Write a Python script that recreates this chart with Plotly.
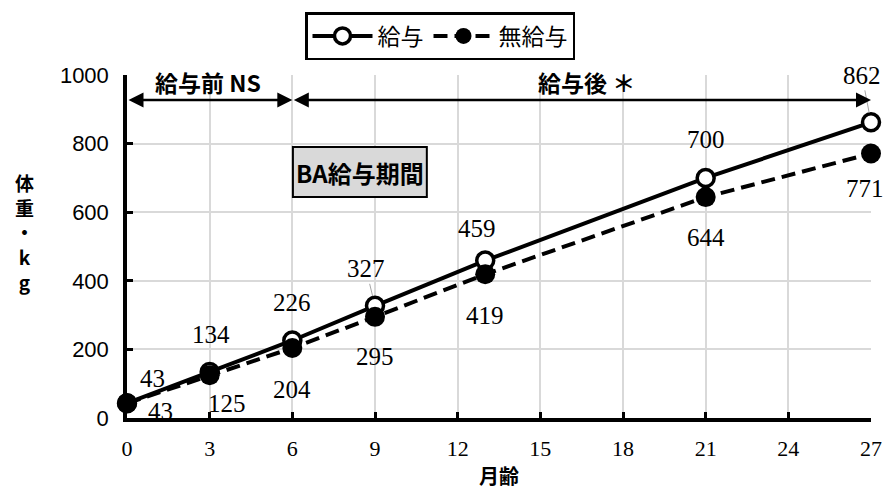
import plotly.graph_objects as go

# 月齢ごとの体重 (kg)
months = [0, 3, 6, 9, 13, 21, 27]
fed = [43, 134, 226, 327, 459, 700, 862]
unfed = [43, 125, 204, 295, 419, 644, 771]
series_names = ["給与", "無給与"]
x_ticks = [0, 3, 6, 9, 12, 15, 18, 21, 24, 27]
y_ticks = [0, 200, 400, 600, 800, 1000]

# pixel offsets of each value label from its point (dx, dy; dy positive = up)
fed_label_offsets = [(25, 25), (1, 38), (0, 38), (-9, 37), (-8, 32), (0, 38), (-9, 47)]
unfed_label_offsets = [(33, -8), (17, -28), (0, -41), (0, -40), (0, -41), (0, -40), (-6, -35)]
# labels that carry a thin leader line back to their point
fed_leader = [False, False, False, True, False, False, True]

CJK = "Noto Sans CJK JP"
SERIF = "Liberation Serif"

fig = go.Figure()
fig.add_trace(go.Scatter(
    x=months, y=fed, name=series_names[0], mode="lines+markers",
    line=dict(color="black", width=4),
    marker=dict(symbol="circle", size=17, color="white",
                line=dict(color="black", width=3.5)),
    cliponaxis=False,
))
fig.add_trace(go.Scatter(
    x=months, y=unfed, name=series_names[1], mode="lines+markers",
    line=dict(color="black", width=4, dash="14px,7px"),
    marker=dict(symbol="circle", size=20, color="black"),
    cliponaxis=False,
))

annotations = []
label_font = dict(family=SERIF, size=25, color="black")
for xv, yv, (dx, dy), lead in zip(months, fed, fed_label_offsets, fed_leader):
    if lead:
        annotations.append(dict(
            x=xv, y=yv, xref="x", yref="y", text=str(yv), font=label_font,
            showarrow=True, ax=dx, ay=-dy, arrowhead=0, arrowwidth=1,
            arrowcolor="#a6a6a6", standoff=10,
        ))
    else:
        annotations.append(dict(
            x=xv, y=yv, xref="x", yref="y", text=str(yv), font=label_font,
            showarrow=False, xshift=dx, yshift=dy,
        ))
for xv, yv, (dx, dy) in zip(months, unfed, unfed_label_offsets):
    annotations.append(dict(
        x=xv, y=yv, xref="x", yref="y", text=str(yv), font=label_font,
        showarrow=False, xshift=dx, yshift=dy,
    ))

# period arrows: before (0-6 months) and after (6-27 months) feeding
arrow_y = 927
for x0, x1 in [(0, 6), (6, 27)]:
    annotations.append(dict(
        x=x1, y=arrow_y, ax=x0, ay=arrow_y, xref="x", yref="y",
        axref="x", ayref="y", text="", showarrow=True,
        arrowhead=2, startarrowhead=2, arrowside="end+start",
        arrowsize=1.2, startarrowsize=1.2, arrowwidth=2.5, arrowcolor="black",
    ))

L, R, T, B, W, H = 127, 16, 75, 72, 887, 490
pw, ph = W - L - R, H - T - B


def px_to_paper(px, py):
    return (px - L) / pw, (H - B - py) / ph


bold_font = dict(family=CJK, size=23, color="black", weight="bold")
for text, (px, py) in [("給与前 NS", (208, 82)), ("給与後 ＊", (586, 82))]:
    ax_, ay_ = px_to_paper(px, py)
    annotations.append(dict(x=ax_, y=ay_, xref="paper", yref="paper", text=text,
                            xanchor="center", yanchor="middle",
                            font=bold_font, showarrow=False))

# box marking the BA feeding period
box = dict(x0=0.223, x1=0.403, y0=0.644, y1=0.790)
annotations.append(dict(x=(box["x0"] + box["x1"]) / 2, y=(box["y0"] + box["y1"]) / 2,
                        xref="paper", yref="paper", text="BA給与期間",
                        xanchor="center", yanchor="middle",
                        font=dict(family=CJK, size=24, color="black", weight="bold"),
                        showarrow=False))

# stacked vertical y-axis title
tx, ty = px_to_paper(24, 232)
annotations.append(dict(x=tx, y=ty, xref="paper", yref="paper",
                        text="体<br>重<br>・<br>k<br>g", align="center",
                        xanchor="center", yanchor="middle",
                        font=dict(family=CJK, size=19, color="black", weight="bold"),
                        showarrow=False))

lx, ly = px_to_paper(440, 12)
fig.update_layout(
    width=W, height=H,
    margin=dict(l=L, r=R, t=T, b=B, pad=0, autoexpand=False),
    paper_bgcolor="white", plot_bgcolor="white",
    showlegend=True,
    legend=dict(
        orientation="h", x=lx, xanchor="center", y=ly, yanchor="top",
        bordercolor="black", borderwidth=2.5, bgcolor="white",
        font=dict(family=CJK, size=23, color="black"),
        itemwidth=60, tracegroupgap=0,
    ),
    shapes=[dict(type="rect", xref="paper", yref="paper", layer="above",
                 fillcolor="#d9d9d9", line=dict(color="black", width=2), **box)],
    annotations=annotations,
    xaxis=dict(
        range=[0, 27], tickvals=x_ticks, ticktext=[str(v) for v in x_ticks],
        showgrid=True, gridcolor="#d9d9d9", gridwidth=2,
        showline=True, linecolor="black", linewidth=3.5,
        ticks="inside", ticklen=6, tickwidth=3, tickcolor="black",
        tickfont=dict(family=SERIF, size=22, color="black"),
        ticklabelstandoff=8, zeroline=False, automargin=False,
        title=dict(text="月齢", standoff=12,
                   font=dict(family=CJK, size=20, color="black", weight="bold")),
    ),
    yaxis=dict(
        range=[0, 1000], tickvals=y_ticks,
        showgrid=True, gridcolor="#d9d9d9", gridwidth=2,
        showline=True, linecolor="black", linewidth=3.5,
        ticks="inside", ticklen=6, tickwidth=3, tickcolor="black",
        tickfont=dict(family="Liberation Sans", size=22, color="black"),
        ticklabelstandoff=10, zeroline=False, automargin=False,
    ),
)

fig.write_html("out.html")
